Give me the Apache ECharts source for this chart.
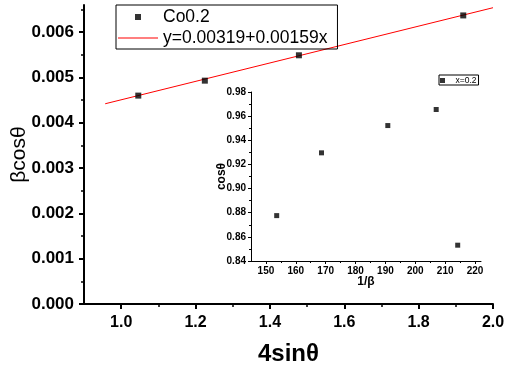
<!DOCTYPE html>
<html>
<head>
<meta charset="utf-8">
<script src="https://cdn.jsdelivr.net/npm/echarts@6/dist/echarts.min.js"></script>
<style>html,body{margin:0;padding:0;background:#fff}#c{width:506px;height:371px}</style>
</head>
<body>
<div id="c"></div>
<script>
// Main plot data
const mainX = [1.046, 1.225, 1.478, 1.920];
const mainY = [0.00460, 0.00493, 0.00549, 0.00637];
const fitX = [0.957, 2.0];
const fitY = [0.00442, 0.00654];
const mainXTicks = [1.0, 1.2, 1.4, 1.6, 1.8, 2.0];
const mainXMinor = [1.1, 1.3, 1.5, 1.7, 1.9];
const mainYTicks = [0, 0.001, 0.002, 0.003, 0.004, 0.005, 0.006];
const mainYMinor = [0.0005, 0.0015, 0.0025, 0.0035, 0.0045, 0.0055, 0.0065];
// Inset data
const insetX = [153.6, 168.6, 190.8, 207.0, 214.2];
const insetY = [0.8776, 0.9296, 0.9522, 0.9655, 0.8531];
const insetXTicks = [150, 160, 170, 180, 190, 200, 210, 220];
const insetXMinor = [155, 165, 175, 185, 195, 205, 215];
const insetYTicks = [0.84, 0.86, 0.88, 0.90, 0.92, 0.94, 0.96, 0.98];
const insetYMinor = [0.85, 0.87, 0.89, 0.91, 0.93, 0.95, 0.97];

const FONT = 'Liberation Sans, Arial, sans-serif';
const SQUARE = 'path://M0,0L10,0L10,10L0,10Z';
const BAR = 'path://M0,0L40,0L40,1L0,1Z';
const chart = echarts.init(document.getElementById('c'), null, {renderer: 'canvas'});

function mkAxis(opts) {
  return Object.assign({
    type: 'value', scale: false, splitLine: {show: false}, nameMoveOverlap: false,
    axisLine: {show: true, onZero: false, lineStyle: {color: '#000', width: 1}},
  }, opts);
}

const option = {
  animation: false,
  backgroundColor: '#fff',
  grid: [
    {left: 84, right: 13, top: 5, bottom: 67, outerBoundsMode: 'none', containLabel: false},
    {left: 251, right: 25, top: 92, bottom: 110, outerBoundsMode: 'none', containLabel: false}
  ],
  xAxis: [
    mkAxis({gridIndex: 0, min: 0.9, max: 2.0, position: 'bottom',
      axisLine: {show: true, onZero: false, lineStyle: {color: '#000', width: 2}},
      axisTick: {show: true, customValues: mainXTicks, length: 5, lineStyle: {color: '#000', width: 2}},
      axisLabel: {show: true, customValues: mainXTicks, margin: 11, color: '#000', fontSize: 16, fontWeight: 'bold', fontFamily: FONT,
        formatter: v => v.toFixed(1)},
      name: '4sinθ', nameLocation: 'middle', nameGap: 38,
      nameTextStyle: {color: '#000', fontSize: 24, fontWeight: 'bold', fontFamily: FONT}}),
    mkAxis({gridIndex: 0, min: 0.9, max: 2.0, position: 'bottom', offset: 0,
      axisLine: {show: false},
      axisTick: {show: true, customValues: mainXMinor, length: 3, lineStyle: {color: '#000', width: 1.5}},
      axisLabel: {show: false}}),
    mkAxis({gridIndex: 1, min: 145, max: 222, position: 'bottom',
      axisTick: {show: true, customValues: insetXTicks, length: 3, lineStyle: {color: '#000', width: 1}},
      axisLabel: {show: true, customValues: insetXTicks, margin: 5, color: '#000', fontSize: 10, fontWeight: 'bold', fontFamily: FONT,
        formatter: v => String(Math.round(v))},
      name: '1/β', nameLocation: 'middle', nameGap: 15,
      nameTextStyle: {color: '#000', fontSize: 12, fontWeight: 'bold', fontFamily: FONT}}),
    mkAxis({gridIndex: 1, min: 145, max: 222, position: 'bottom', offset: 0,
      axisLine: {show: false},
      axisTick: {show: true, customValues: insetXMinor, length: 2, lineStyle: {color: '#000', width: 1}},
      axisLabel: {show: false}})
  ],
  yAxis: [
    mkAxis({gridIndex: 0, min: 0, max: 0.0066, position: 'left',
      axisLine: {show: true, onZero: false, lineStyle: {color: '#000', width: 2}},
      axisTick: {show: true, customValues: mainYTicks, length: 5, lineStyle: {color: '#000', width: 2}},
      axisLabel: {show: true, customValues: mainYTicks, margin: 10, color: '#000', fontSize: 17, fontWeight: 'bold', fontFamily: FONT,
        formatter: v => v.toFixed(3)},
      name: 'βcosθ', nameLocation: 'middle', nameGap: 54, nameRotate: 90,
      nameTextStyle: {color: '#000', fontSize: 21, fontFamily: FONT}}),
    mkAxis({gridIndex: 0, min: 0, max: 0.0066, position: 'left', offset: 0,
      axisLine: {show: false},
      axisTick: {show: true, customValues: mainYMinor, length: 3, lineStyle: {color: '#000', width: 1.5}},
      axisLabel: {show: false}}),
    mkAxis({gridIndex: 1, min: 0.84, max: 0.98, position: 'left',
      axisTick: {show: true, customValues: insetYTicks, length: 3, lineStyle: {color: '#000', width: 1}},
      axisLabel: {show: true, customValues: insetYTicks, margin: 5, color: '#000', fontSize: 10, fontWeight: 'bold', fontFamily: FONT,
        formatter: v => v.toFixed(2)},
      name: 'cosθ', nameLocation: 'middle', nameGap: 23, nameRotate: 90,
      nameTextStyle: {color: '#000', fontSize: 12, fontWeight: 'bold', fontFamily: FONT}}),
    mkAxis({gridIndex: 1, min: 0.84, max: 0.98, position: 'left', offset: 0,
      axisLine: {show: false},
      axisTick: {show: true, customValues: insetYMinor, length: 2, lineStyle: {color: '#000', width: 1}},
      axisLabel: {show: false}})
  ],
  legend: [
    {left: 116, top: 5, orient: 'vertical', symbolKeepAspect: true,
      data: [{name: 'Co0.2', icon: SQUARE, itemStyle: {color: '#000'}},
             {name: 'y=0.00319+0.00159x', icon: BAR, itemStyle: {color: '#ff0000'}}],
      borderColor: '#000', borderWidth: 1, padding: [3, 10, 2, 2],
      itemWidth: 40, itemHeight: 6, itemGap: 3,
      textStyle: {color: '#000', fontSize: 17.5, fontFamily: FONT, lineHeight: 18}},
    {left: 439, top: 75, orient: 'vertical', symbolKeepAspect: true,
      data: [{name: 'x=0.2', icon: SQUARE, itemStyle: {color: '#000'}}],
      borderColor: '#000', borderWidth: 1, padding: [1, 2, 0, 1],
      itemWidth: 16, itemHeight: 5, itemGap: 0,
      textStyle: {color: '#000', fontSize: 8.5, fontFamily: FONT, lineHeight: 9}}
  ],
  series: [
    {name: 'y=0.00319+0.00159x', type: 'line', xAxisIndex: 0, yAxisIndex: 0,
      data: fitX.map((x, i) => [x, fitY[i]]), symbol: 'none', z: 2,
      lineStyle: {color: '#ff0000', width: 1}, itemStyle: {color: '#ff0000'}},
    {name: 'Co0.2', type: 'scatter', xAxisIndex: 0, yAxisIndex: 0,
      data: mainX.map((x, i) => [x, mainY[i]]), symbol: 'rect', symbolSize: 6, z: 3,
      itemStyle: {color: '#000'}},
    {name: 'x=0.2', type: 'scatter', xAxisIndex: 2, yAxisIndex: 2,
      data: insetX.map((x, i) => [x, insetY[i]]), symbol: 'rect', symbolSize: 5,
      itemStyle: {color: '#000'}}
  ]
};
chart.setOption(option);
</script>
</body>
</html>
